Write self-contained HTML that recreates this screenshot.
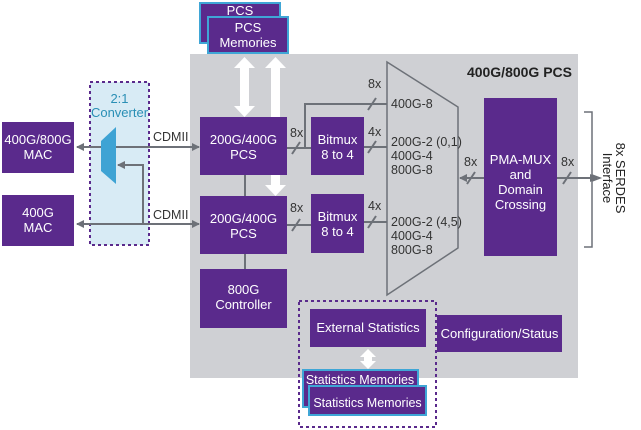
<!DOCTYPE html>
<html><head><meta charset="utf-8"><style>
html,body{margin:0;padding:0;background:#fff;width:641px;height:430px;overflow:hidden}
text{font-family:"Liberation Sans",sans-serif}
</style></head><body>
<svg width="641" height="430" viewBox="0 0 641 430" xmlns="http://www.w3.org/2000/svg">
<defs>
<marker id="ah" markerWidth="8" markerHeight="8" refX="7" refY="4" orient="auto" markerUnits="userSpaceOnUse"><path d="M0,0 L8,4 L0,8 Z" fill="#6d7178"/></marker>
</defs>
<rect x="190" y="54" width="388" height="324" fill="#cfd0d4"/>
<text x="572" y="77" font-size="14" font-weight="bold" fill="#222" text-anchor="end">400G/800G PCS</text>

<rect x="200" y="3" width="80" height="40" fill="#5a2a8c" stroke="#3fa6d6" stroke-width="2"/>
<text x="240" y="15" font-size="13" fill="#fff" text-anchor="middle">PCS</text>
<rect x="208" y="17" width="80" height="36" fill="#5a2a8c" stroke="#3fa6d6" stroke-width="2"/>
<text x="248" y="32" font-size="13" fill="#fff" text-anchor="middle">PCS</text>
<text x="248" y="47" font-size="13" fill="#fff" text-anchor="middle">Memories</text>

<rect x="240" y="66" width="9" height="42" fill="#fff"/>
<polygon points="234,68 244.5,57 255,68" fill="#fff"/>
<polygon points="234,106 244.5,117 255,106" fill="#fff"/>
<rect x="271" y="66" width="9" height="120" fill="#fff"/>
<polygon points="265,68 275.5,57 286,68" fill="#fff"/>
<polygon points="265,185 275.5,196 286,185" fill="#fff"/>

<rect x="90" y="82" width="59" height="163" fill="#d8ebf5" stroke="#5a2a8c" stroke-width="2" stroke-dasharray="3,3"/>
<text x="119.5" y="103" font-size="13" fill="#2a8fb5" text-anchor="middle">2:1</text>
<text x="119.5" y="117" font-size="13" fill="#2a8fb5" text-anchor="middle">Converter</text>

<g stroke="#6d7178" stroke-width="2" fill="none">
<line x1="116" y1="147" x2="199" y2="147" marker-end="url(#ah)"/>
<line x1="101" y1="147" x2="77" y2="147" marker-end="url(#ah)"/>
<line x1="90" y1="224" x2="199" y2="224" marker-end="url(#ah)"/>
<line x1="90" y1="224" x2="77" y2="224" marker-end="url(#ah)"/>
<polyline points="143,224 143,165 118,165" marker-end="url(#ah)"/>
<line x1="245" y1="175" x2="245" y2="196"/>
<line x1="245" y1="254" x2="245" y2="269"/>
<line x1="287" y1="148" x2="311" y2="148"/>
<line x1="287" y1="225" x2="311" y2="225"/>
<polyline points="305,148 305,104 387,104"/>
<line x1="364" y1="147" x2="387" y2="147"/>
<line x1="364" y1="222" x2="387" y2="222"/>
<line x1="484" y1="178" x2="460" y2="178" marker-end="url(#ah)"/>
<line x1="557" y1="178" x2="597" y2="178" marker-end="url(#ah)"/>
<polygon points="387,62 458,107 458,248 387,295" stroke-width="1.5"/>
<polyline points="584,112 592,112 592,175 600,178 592,181 592,247 584,247" stroke-width="1.5"/>
<line x1="292" y1="154" x2="300" y2="142"/>
<line x1="292" y1="231" x2="300" y2="219"/>
<line x1="368" y1="110" x2="376" y2="98"/>
<line x1="368" y1="153" x2="376" y2="141"/>
<line x1="368" y1="228" x2="376" y2="216"/>
<line x1="467" y1="184" x2="475" y2="172"/>
<line x1="563" y1="184" x2="571" y2="172"/>
</g>
<g font-size="12.5" fill="#333">
<text x="153" y="141">CDMII</text>
<text x="153" y="219">CDMII</text>
<text x="290" y="137">8x</text>
<text x="290" y="212">8x</text>
<text x="368" y="88">8x</text>
<text x="368" y="136">4x</text>
<text x="368" y="210">4x</text>
<text x="391" y="108">400G-8</text>
<text x="391" y="146">200G-2 (0,1)</text>
<text x="391" y="160">400G-4</text>
<text x="391" y="174">800G-8</text>
<text x="391" y="226">200G-2 (4,5)</text>
<text x="391" y="240">400G-4</text>
<text x="391" y="254">800G-8</text>
<text x="464" y="166">8x</text>
<text x="561" y="166">8x</text>
</g>
<text transform="translate(616,178) rotate(90)" font-size="13" fill="#222" text-anchor="middle">8x SERDES</text>
<text transform="translate(603,178) rotate(90)" font-size="13" fill="#222" text-anchor="middle">Interface</text>

<polygon points="101,141 116,127 116,184 101,171" fill="#3ea3d4"/>

<g fill="#5a2a8c">
<rect x="2" y="122" width="72" height="51"/>
<rect x="2" y="195" width="72" height="51"/>
<rect x="200" y="117" width="87" height="58"/>
<rect x="200" y="196" width="87" height="58"/>
<rect x="200" y="269" width="87" height="59"/>
<rect x="311" y="117" width="53" height="58"/>
<rect x="311" y="194" width="53" height="59"/>
<rect x="484" y="98" width="73" height="158"/>
<rect x="310" y="309" width="116" height="38"/>
<rect x="437" y="315" width="125" height="37"/>
</g>
<g font-size="13" fill="#fff" text-anchor="middle">
<text x="38" y="144">400G/800G</text><text x="38" y="159">MAC</text>
<text x="38" y="217">400G</text><text x="38" y="232">MAC</text>
<text x="243.5" y="144">200G/400G</text><text x="243.5" y="159">PCS</text>
<text x="243.5" y="223">200G/400G</text><text x="243.5" y="238">PCS</text>
<text x="243.5" y="294">800G</text><text x="243.5" y="309">Controller</text>
<text x="337.5" y="144">Bitmux</text><text x="337.5" y="159">8 to 4</text>
<text x="337.5" y="221">Bitmux</text><text x="337.5" y="236">8 to 4</text>
<text x="520.5" y="164">PMA-MUX</text><text x="520.5" y="179">and</text>
<text x="520.5" y="194">Domain</text><text x="520.5" y="209">Crossing</text>
<text x="368" y="332">External Statistics</text>
<text x="499.5" y="338">Configuration/Status</text>
</g>

<rect x="299" y="301" width="137" height="126" fill="none" stroke="#5a2a8c" stroke-width="2" stroke-dasharray="3,3"/>
<rect x="364" y="356" width="8" height="6" fill="#fff"/>
<polygon points="360,357 368,349 376,357" fill="#fff"/>
<polygon points="360,361 368,369 376,361" fill="#fff"/>
<rect x="303" y="370" width="115" height="37" fill="#5a2a8c" stroke="#3fa6d6" stroke-width="2"/>
<text x="360" y="384" font-size="12.5" fill="#fff" text-anchor="middle">Statistics Memories</text>
<rect x="309" y="386" width="117" height="29" fill="#5a2a8c" stroke="#3fa6d6" stroke-width="2"/>
<text x="367.5" y="407" font-size="12.5" fill="#fff" text-anchor="middle">Statistics Memories</text>
</svg>
</body></html>
